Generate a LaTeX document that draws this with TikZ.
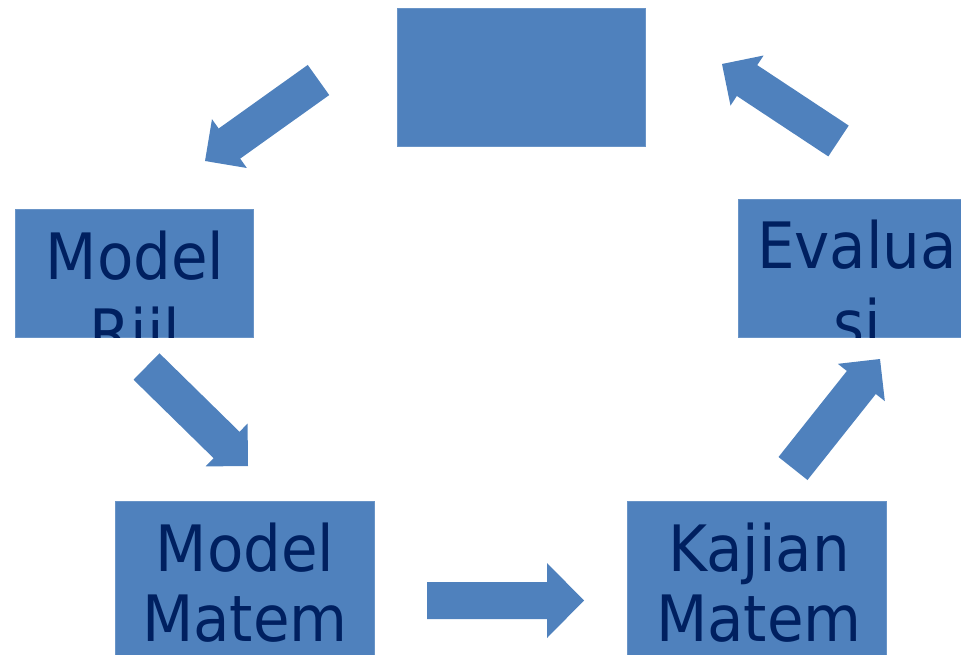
\documentclass[tikz,border=0pt]{standalone}
\usepackage{fontspec}
\newfontfamily\boxfont[FakeStretch=0.93]{DejaVu Sans}
\usetikzlibrary{calc}
\definecolor{boxblue}{HTML}{4F81BD}
\definecolor{textnavy}{HTML}{002060}

% block arrow: tail, tip, half shaft, half head, head length
\newcommand{\blockarrow}[5]{%
  \coordinate (hb) at ($(#2)!#5!(#1)$);
  \fill[boxblue] ($(#1)!#3!-90:(#2)$) -- ($(hb)!#3!-90:(#2)$) -- ($(hb)!#4!-90:(#2)$)
    -- (#2) -- ($(hb)!#4!90:(#2)$) -- ($(hb)!#3!90:(#2)$) -- ($(#1)!#3!90:(#2)$) -- cycle;
}

\begin{document}
\begin{tikzpicture}[x=0.03cm, y=-0.03cm,
    box/.style={rectangle, fill=boxblue, draw=boxblue!85!white, line width=0.6pt,
                inner sep=0pt},
    lbl/.style={anchor=base, text=textnavy, inner sep=0pt,
                font=\boxfont\fontsize{54.6pt}{60pt}\selectfont},
]
\useasboundingbox (0,0) rectangle (961,655);

\node[box, minimum width=7.44cm, minimum height=4.14cm] (plan) at (521,77) {};
\node[box, minimum width=7.14cm, minimum height=3.84cm] (riil) at (134,273) {};
\node[box, minimum width=7.14cm, minimum height=4.14cm] (eval) at (857,268) {};
\node[box, minimum width=7.77cm, minimum height=4.8cm] (mmat) at (245,581) {};
\node[box, minimum width=7.77cm, minimum height=4.8cm] (kaji) at (757,581) {};

\begin{scope}
  \clip (riil.south west) rectangle (riil.north east);
  \node[lbl] (riil-1) at (135,279) {Model};
  \node[lbl] (riil-2) at (135,355) {Riil};
\end{scope}
\begin{scope}
  \clip (eval.south west) rectangle (eval.north east);
  \node[lbl] (eval-1) at (857,268) {Evalua};
  \node[lbl] (eval-2) at (857,346) {si};
\end{scope}
\begin{scope}
  \clip (mmat.south west) rectangle (mmat.north east);
  \node[lbl] (mmat-1) at (245,571) {Model};
  \node[lbl] (mmat-2) at (245,641) {Matem};
\end{scope}
\begin{scope}
  \clip (kaji.south west) rectangle (kaji.north east);
  \node[lbl] (kaji-1) at (759,571) {Kajian};
  \node[lbl] (kaji-2) at (759,641) {Matem};
\end{scope}

% arrow ends
\coordinate (a1s) at (318.5,80);  \coordinate (a1e) at (205,161);
\coordinate (a2s) at (146.5,366.5); \coordinate (a2e) at (248,466);
\coordinate (a3s) at (427,600.5); \coordinate (a3e) at (584,600.5);
\coordinate (a4s) at (793,468.5); \coordinate (a4e) at (880,359);
\coordinate (a5s) at (838.5,141); \coordinate (a5e) at (722,64);

\blockarrow{a1s}{a1e}{0.555cm}{0.9cm}{0.9cm}
\blockarrow{a2s}{a2e}{0.555cm}{0.9cm}{0.9cm}
\blockarrow{a3s}{a3e}{0.555cm}{1.125cm}{1.11cm}
\blockarrow{a4s}{a4e}{0.555cm}{0.9cm}{0.9cm}
\blockarrow{a5s}{a5e}{0.555cm}{0.9cm}{0.9cm}

\end{tikzpicture}
\end{document}
